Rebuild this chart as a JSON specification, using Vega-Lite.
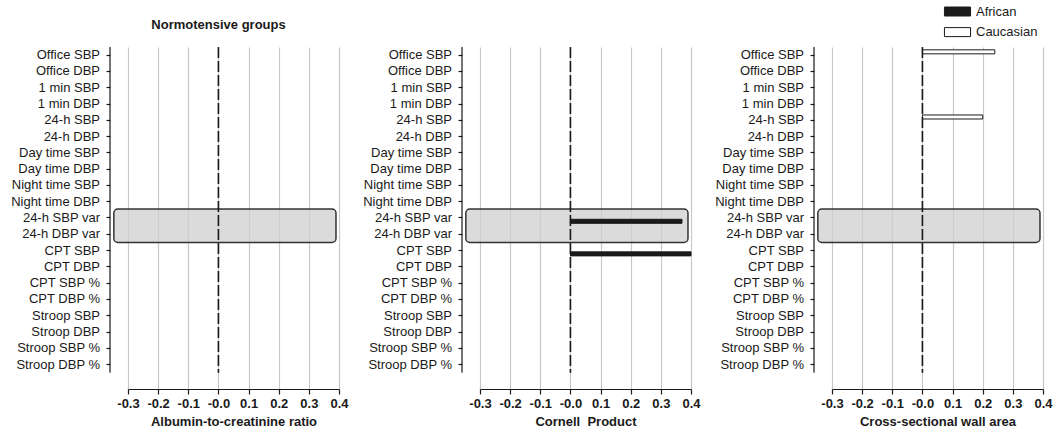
{
  "$schema": "https://vega.github.io/schema/vega-lite/v6.json",
  "padding": {"left": 10, "top": 5, "right": 0, "bottom": 0},
  "autosize": {"type": "pad"},
  "bounds": "flush",
  "spacing": 141,
  "background": "white",
  "datasets": {
    "bars": [
      {"panel": "Cornell Product", "item": "24-h SBP var", "group": "African", "value": 0.37},
      {"panel": "Cornell Product", "item": "CPT SBP", "group": "African", "value": 0.4},
      {"panel": "Cross-sectional wall area", "item": "Office SBP", "group": "Caucasian", "value": 0.24},
      {"panel": "Cross-sectional wall area", "item": "24-h SBP", "group": "Caucasian", "value": 0.2}
    ],
    "band": [
      {"from": "24-h SBP var", "to": "24-h DBP var", "lo": -0.347, "hi": 0.39}
    ]
  },
  "config": {
    "font": "Liberation Sans",
    "view": {"stroke": null},
    "axis": {"labelColor": "#1a1a1a", "tickColor": "#1a1a1a", "domainColor": "#1a1a1a", "titleColor": "#1a1a1a", "labelFont": "Liberation Sans", "titleFont": "Liberation Sans"},
    "axisX": {"grid": true, "gridColor": "#c8c8c8", "gridWidth": 1.2, "tickSize": 5, "tickWidth": 1.2, "domainWidth": 1.2, "labelFontSize": 13, "labelFontWeight": "bold", "titleFontSize": 13, "titleFontWeight": "bold", "labelPadding": 3, "titlePadding": 5, "labelFlush": false, "labelBound": false, "values": [-0.3, -0.2, -0.1, 0, 0.1, 0.2, 0.3, 0.4], "labelExpr": "datum.value === 0 ? '-0.0' : replace(format(datum.value, '.1f'), '\u2212', '-')"},
    "axisY": {"grid": false, "domain": false, "ticks": true, "tickSize": 4, "tickWidth": 1.2, "labelFontSize": 13, "labelFontWeight": "normal", "labelPadding": 6.5, "offset": 18, "title": null},
    "legend": {"orient": "none", "legendX": 823, "legendY": -42, "title": null, "symbolType": "M-2.9,-1H2.9V1H-2.9Z", "symbolSize": 81, "symbolStrokeColor": "#1a1a1a", "symbolStrokeWidth": 1, "labelFontSize": 13, "labelColor": "#1a1a1a", "labelOffset": 12, "rowPadding": 6.6, "padding": 0}
  },
  "hconcat": [
    {
      "width": 211,
      "height": 342,
      "title": {"text": "Normotensive groups", "fontSize": 13, "fontWeight": "bold", "anchor": "middle", "dx": -15, "offset": 14, "color": "#1a1a1a"},
      "layer": [
        {
          "data": {"name": "band"},
          "mark": {"type": "rect", "fill": "#cfcfcf", "fillOpacity": 0.75, "stroke": "#333333", "strokeWidth": 1.5, "cornerRadius": 4},
          "encoding": {
            "x": {"field": "lo", "type": "quantitative", "title": "Albumin-to-creatinine ratio", "scale": {"domain": [-0.3, 0.4], "nice": false, "zero": false}},
            "x2": {"field": "hi"},
            "y": {"field": "from", "type": "nominal", "bandPosition": -0.05, "scale": {"domain": ["Office SBP","Office DBP","1 min SBP","1 min DBP","24-h SBP","24-h DBP","Day time SBP","Day time DBP","Night time SBP","Night time DBP","24-h SBP var","24-h DBP var","CPT SBP","CPT DBP","CPT SBP %","CPT DBP %","Stroop SBP","Stroop DBP","Stroop SBP %","Stroop DBP %"], "paddingInner": 0, "paddingOuter": 0.5, "align": 0}},
            "y2": {"field": "to", "bandPosition": 1}
          }
        },
        {
          "data": {"values": [{}]},
          "mark": {"type": "rule", "color": "#1a1a1a", "strokeDash": [11, 3], "strokeWidth": 1.6},
          "encoding": {
            "x": {"datum": 0, "type": "quantitative", "title": "Albumin-to-creatinine ratio"},
            "y": {"datum": "Office SBP", "type": "nominal", "bandPosition": 0},
            "y2": {"datum": "Stroop DBP %", "bandPosition": 1}
          }
        },
        {
          "data": {"values": [{}]},
          "mark": {"type": "rule", "color": "#1a1a1a", "strokeWidth": 1.2},
          "encoding": {
            "x": {"datum": -0.3597, "type": "quantitative", "title": "Albumin-to-creatinine ratio"},
            "y": {"datum": "Office SBP", "type": "nominal", "bandPosition": 0},
            "y2": {"datum": "Stroop DBP %", "bandPosition": 1}
          }
        }
      ]
    },
    {
      "width": 211,
      "height": 342,
      "layer": [
        {
          "data": {"name": "band"},
          "mark": {"type": "rect", "fill": "#cfcfcf", "fillOpacity": 0.75, "stroke": "#333333", "strokeWidth": 1.5, "cornerRadius": 4},
          "encoding": {
            "x": {"field": "lo", "type": "quantitative", "title": "Cornell\u00a0 Product", "scale": {"domain": [-0.3, 0.4], "nice": false, "zero": false}},
            "x2": {"field": "hi"},
            "y": {"field": "from", "type": "nominal", "bandPosition": -0.05, "scale": {"domain": ["Office SBP","Office DBP","1 min SBP","1 min DBP","24-h SBP","24-h DBP","Day time SBP","Day time DBP","Night time SBP","Night time DBP","24-h SBP var","24-h DBP var","CPT SBP","CPT DBP","CPT SBP %","CPT DBP %","Stroop SBP","Stroop DBP","Stroop SBP %","Stroop DBP %"], "paddingInner": 0, "paddingOuter": 0.5, "align": 0}},
            "y2": {"field": "to", "bandPosition": 1}
          }
        },
        {
          "data": {"name": "bars"},
          "transform": [{"filter": "datum.panel === 'Cornell Product'"}],
          "mark": {"type": "bar", "stroke": "#1a1a1a", "strokeWidth": 1},
          "encoding": {
            "x": {"field": "value", "type": "quantitative", "title": "Cornell\u00a0 Product"},
            "x2": {"datum": 0},
            "y": {"field": "item", "type": "nominal"},
            "yOffset": {"field": "group", "type": "nominal", "scale": {"domain": ["Caucasian", "African"], "paddingInner": 0.39, "paddingOuter": 0.43}},
            "fill": {"field": "group", "type": "nominal", "scale": {"domain": ["African", "Caucasian"], "range": ["#1a1a1a", "#ffffff"]}}
          }
        },
        {
          "data": {"values": [{}]},
          "mark": {"type": "rule", "color": "#1a1a1a", "strokeDash": [11, 3], "strokeWidth": 1.6},
          "encoding": {
            "x": {"datum": 0, "type": "quantitative", "title": "Cornell\u00a0 Product"},
            "y": {"datum": "Office SBP", "type": "nominal", "bandPosition": 0},
            "y2": {"datum": "Stroop DBP %", "bandPosition": 1}
          }
        },
        {
          "data": {"values": [{}]},
          "mark": {"type": "rule", "color": "#1a1a1a", "strokeWidth": 1.2},
          "encoding": {
            "x": {"datum": -0.3597, "type": "quantitative", "title": "Cornell\u00a0 Product"},
            "y": {"datum": "Office SBP", "type": "nominal", "bandPosition": 0},
            "y2": {"datum": "Stroop DBP %", "bandPosition": 1}
          }
        }
      ]
    },
    {
      "width": 211,
      "height": 342,
      "layer": [
        {
          "data": {"name": "band"},
          "mark": {"type": "rect", "fill": "#cfcfcf", "fillOpacity": 0.75, "stroke": "#333333", "strokeWidth": 1.5, "cornerRadius": 4},
          "encoding": {
            "x": {"field": "lo", "type": "quantitative", "title": "Cross-sectional wall area", "scale": {"domain": [-0.3, 0.4], "nice": false, "zero": false}},
            "x2": {"field": "hi"},
            "y": {"field": "from", "type": "nominal", "bandPosition": -0.05, "scale": {"domain": ["Office SBP","Office DBP","1 min SBP","1 min DBP","24-h SBP","24-h DBP","Day time SBP","Day time DBP","Night time SBP","Night time DBP","24-h SBP var","24-h DBP var","CPT SBP","CPT DBP","CPT SBP %","CPT DBP %","Stroop SBP","Stroop DBP","Stroop SBP %","Stroop DBP %"], "paddingInner": 0, "paddingOuter": 0.5, "align": 0}},
            "y2": {"field": "to", "bandPosition": 1}
          }
        },
        {
          "data": {"name": "bars"},
          "transform": [{"filter": "datum.panel === 'Cross-sectional wall area'"}],
          "mark": {"type": "bar", "stroke": "#1a1a1a", "strokeWidth": 1},
          "encoding": {
            "x": {"field": "value", "type": "quantitative", "title": "Cross-sectional wall area"},
            "x2": {"datum": 0},
            "y": {"field": "item", "type": "nominal"},
            "yOffset": {"field": "group", "type": "nominal", "scale": {"domain": ["Caucasian", "African"], "paddingInner": 0.39, "paddingOuter": 0.43}},
            "fill": {"field": "group", "type": "nominal", "scale": {"domain": ["African", "Caucasian"], "range": ["#1a1a1a", "#ffffff"]}}
          }
        },
        {
          "data": {"values": [{}]},
          "mark": {"type": "rule", "color": "#1a1a1a", "strokeDash": [11, 3], "strokeWidth": 1.6},
          "encoding": {
            "x": {"datum": 0, "type": "quantitative", "title": "Cross-sectional wall area"},
            "y": {"datum": "Office SBP", "type": "nominal", "bandPosition": 0},
            "y2": {"datum": "Stroop DBP %", "bandPosition": 1}
          }
        },
        {
          "data": {"values": [{}]},
          "mark": {"type": "rule", "color": "#1a1a1a", "strokeWidth": 1.2},
          "encoding": {
            "x": {"datum": -0.3597, "type": "quantitative", "title": "Cross-sectional wall area"},
            "y": {"datum": "Office SBP", "type": "nominal", "bandPosition": 0},
            "y2": {"datum": "Stroop DBP %", "bandPosition": 1}
          }
        }
      ]
    }
  ]
}
